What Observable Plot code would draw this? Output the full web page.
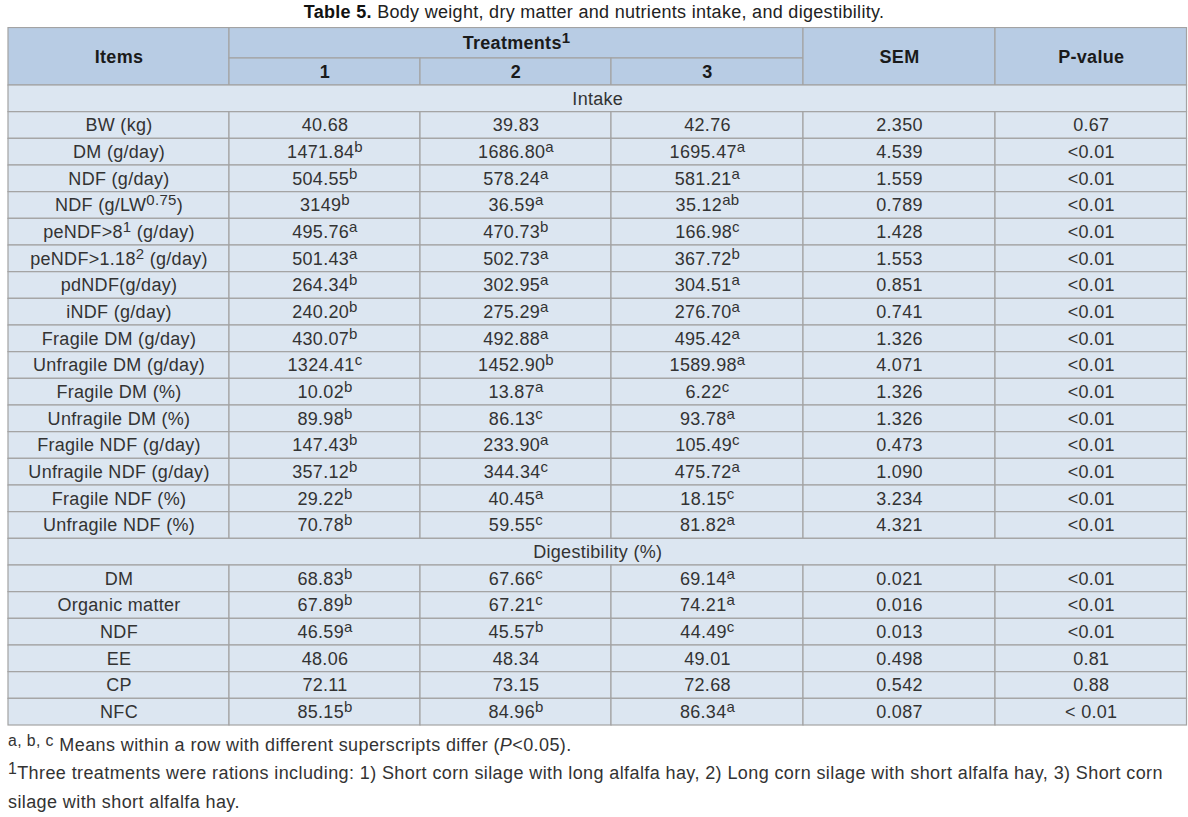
<!DOCTYPE html>
<html>
<head>
<meta charset="utf-8">
<script src="https://cdn.jsdelivr.net/npm/d3@7"></script>
<script src="https://cdn.jsdelivr.net/npm/@observablehq/plot@0.6"></script>
<style>
  body { margin: 0; background: #fff; font-family: "Liberation Sans", Arial, sans-serif; color: #333; }
  #title { height: 27px; line-height: 25px; text-align: center; font-size: 18px; letter-spacing: 0.3px; color: #222; white-space: nowrap; }
  #title b { color: #111; }
  #chart svg { display: block; }
  #notes { padding-left: 8px; font-size: 18px; letter-spacing: 0.4px; color: #333; white-space: nowrap; margin-top: 5px; }
  #notes .l1 { height: 27px; line-height: 27px; }
  #notes .l2 { line-height: 29px; }
  #notes sup { font-size: 88%; vertical-align: 5px; line-height: 0; }
</style>
</head>
<body>
<div id="title"><b>Table 5.</b> Body weight, dry matter and nutrients intake, and digestibility.</div>
<div id="chart"></div>
<div id="notes">
  <div class="l1"><sup>a, b, c</sup> Means within a row with different superscripts differ (<i>P</i>&lt;0.05).</div>
  <div class="l2"><sup>1</sup>Three treatments were rations including: 1) Short corn silage with long alfalfa hay, 2) Long corn silage with short alfalfa hay, 3) Short corn<br>silage with short alfalfa hay.</div>
</div>
<script>
// ---- data ----
const headers = ["Items", "Treatments^{1}", "SEM", "P-value"];
const treatments = ["1", "2", "3"];

const intakeLabel = "Intake";
const intakeItems = ["BW (kg)", "DM (g/day)", "NDF (g/day)", "NDF (g/LW^{0.75})", "peNDF>8^{1} (g/day)", "peNDF>1.18^{2} (g/day)", "pdNDF(g/day)", "iNDF (g/day)", "Fragile DM (g/day)", "Unfragile DM (g/day)", "Fragile DM (%)", "Unfragile DM (%)", "Fragile NDF (g/day)", "Unfragile NDF (g/day)", "Fragile NDF (%)", "Unfragile NDF (%)"];
const intakeT1 = ["40.68", "1471.84^{b}", "504.55^{b}", "3149^{b}", "495.76^{a}", "501.43^{a}", "264.34^{b}", "240.20^{b}", "430.07^{b}", "1324.41^{c}", "10.02^{b}", "89.98^{b}", "147.43^{b}", "357.12^{b}", "29.22^{b}", "70.78^{b}"];
const intakeT2 = ["39.83", "1686.80^{a}", "578.24^{a}", "36.59^{a}", "470.73^{b}", "502.73^{a}", "302.95^{a}", "275.29^{a}", "492.88^{a}", "1452.90^{b}", "13.87^{a}", "86.13^{c}", "233.90^{a}", "344.34^{c}", "40.45^{a}", "59.55^{c}"];
const intakeT3 = ["42.76", "1695.47^{a}", "581.21^{a}", "35.12^{ab}", "166.98^{c}", "367.72^{b}", "304.51^{a}", "276.70^{a}", "495.42^{a}", "1589.98^{a}", "6.22^{c}", "93.78^{a}", "105.49^{c}", "475.72^{a}", "18.15^{c}", "81.82^{a}"];
const intakeSEM = ["2.350", "4.539", "1.559", "0.789", "1.428", "1.553", "0.851", "0.741", "1.326", "4.071", "1.326", "1.326", "0.473", "1.090", "3.234", "4.321"];
const intakeP = ["0.67", "<0.01", "<0.01", "<0.01", "<0.01", "<0.01", "<0.01", "<0.01", "<0.01", "<0.01", "<0.01", "<0.01", "<0.01", "<0.01", "<0.01", "<0.01"];

const digLabel = "Digestibility (%)";
const digItems = ["DM", "Organic matter", "NDF", "EE", "CP", "NFC"];
const digT1 = ["68.83^{b}", "67.89^{b}", "46.59^{a}", "48.06", "72.11", "85.15^{b}"];
const digT2 = ["67.66^{c}", "67.21^{c}", "45.57^{b}", "48.34", "73.15", "84.96^{b}"];
const digT3 = ["69.14^{a}", "74.21^{a}", "44.49^{c}", "49.01", "72.68", "86.34^{a}"];
const digSEM = ["0.021", "0.016", "0.013", "0.498", "0.542", "0.087"];
const digP = ["<0.01", "<0.01", "<0.01", "0.81", "0.88", "< 0.01"];

// ---- table layout (column / row units) ----
const colDomain = [0, 1, 2, 3, 4, 5, 6];
const colRange = [8, 229, 420, 611, 803, 995, 1186.5];
const rowDomain = [0, 1, 2, 26];
const rowRange = [0.5, 31, 58, 698];
const xs = d3.scaleLinear(colDomain, colRange);
const ys = d3.scaleLinear(rowDomain, rowRange);

const cells = [];
function cell(c1, c2, r1, r2, text, kind) { cells.push({c1, c2, r1, r2, text, kind}); }
cell(0, 1, 0, 2, headers[0], "head");
cell(1, 4, 0, 1, headers[1], "head");
treatments.forEach((t, i) => cell(1 + i, 2 + i, 1, 2, t, "head"));
cell(4, 5, 0, 2, headers[2], "head");
cell(5, 6, 0, 2, headers[3], "head");

const sections = [
  {label: intakeLabel, cols: [intakeItems, intakeT1, intakeT2, intakeT3, intakeSEM, intakeP]},
  {label: digLabel, cols: [digItems, digT1, digT2, digT3, digSEM, digP]}
];
let r = 2;
for (const s of sections) {
  cell(0, 6, r, r + 1, s.label, "section");
  r++;
  s.cols[0].forEach((_, i) => {
    s.cols.forEach((col, c) => cell(c, c + 1, r, r + 1, col[i], "body"));
    r++;
  });
}
const midX = d => xs.invert((xs(d.c1) + xs(d.c2)) / 2);
const midY = d => ys.invert((ys(d.r1) + ys(d.r2)) / 2);

const plot = Plot.plot({
  width: 1188,
  height: 700,
  margin: 0,
  style: {fontFamily: '"Liberation Sans", Arial, sans-serif', background: "#fff", letterSpacing: "0.3px"},
  x: {type: "linear", domain: colDomain, range: colRange, axis: null},
  y: {type: "linear", domain: rowDomain, range: rowRange, axis: null},
  marks: [
    Plot.rect(cells, {x1: "c1", x2: "c2", y1: "r1", y2: "r2",
      fill: d => d.kind === "head" ? "#b8cce4" : "#dce6f1", stroke: "#a3a3a3", strokeWidth: 1.2}),
    Plot.text(cells.filter(d => d.kind === "head"), {x: midX, y: midY, text: "text",
      fontSize: 18, fontWeight: "bold", fill: "#1a1a1a"}),
    Plot.text(cells.filter(d => d.kind !== "head"), {x: midX, y: midY, text: "text",
      fontSize: 18, fill: "#333"})
  ]
});

// superscripts: turn ^{...} into raised tspans
plot.querySelectorAll("text").forEach(t => {
  const s = t.textContent;
  if (!s.includes("^{")) return;
  const parts = s.split(/\^\{([^}]*)\}/);
  t.textContent = "";
  let raised = false;
  parts.forEach((p, i) => {
    const sup = i % 2 === 1;
    if (!p) return;
    const ts = document.createElementNS("http://www.w3.org/2000/svg", "tspan");
    ts.textContent = p;
    if (sup) { ts.setAttribute("dy", "-6"); ts.setAttribute("font-size", "15"); raised = true; }
    else if (raised) { ts.setAttribute("dy", "6"); raised = false; }
    t.appendChild(ts);
  });
});
document.getElementById("chart").appendChild(plot);
</script>
</body>
</html>
